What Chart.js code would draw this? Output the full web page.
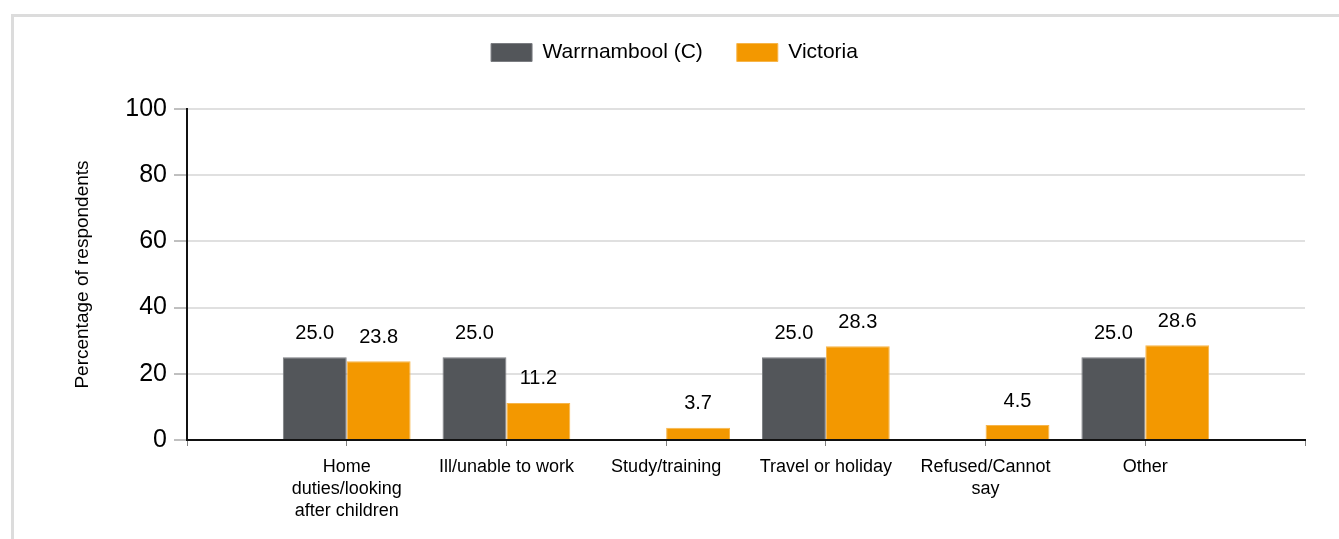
<!DOCTYPE html>
<html>
<head>
<meta charset="utf-8">
<script src="https://cdn.jsdelivr.net/npm/chart.js@4/dist/chart.umd.min.js"></script>
<style>
  html, body { margin: 0; padding: 0; background: #fff; overflow: hidden; }
  #frame { position: absolute; left: 11px; top: 14px; width: 1400px; height: 600px; border: 3px solid #dcdcdc; }
  #wrap { position: absolute; left: 0; top: 0; width: 1339px; height: 539px; }
</style>
</head>
<body>
<div id="frame"></div>
<div id="wrap"><canvas id="barChart"></canvas></div>
<script>
// categories (blank slots at both ends keep the one-slot gap either side)
const categories = [
    '',
    ['Home', 'duties/looking', 'after children'],
    'Ill/unable to work',
    'Study/training',
    'Travel or holiday',
    ['Refused/Cannot', 'say'],
    'Other',
    ''
];
const warrnambool = [null, 25.0, 25.0, null, 25.0, null, 25.0, null];
const victoria    = [null, 23.8, 11.2, 3.7, 28.3, 4.5, 28.6, null];
const yTicks = [0, 20, 40, 60, 80, 100];

const FONT = "'Liberation Sans', Arial, sans-serif";

// value labels above each bar
const valueLabels = {
    id: 'valueLabels',
    afterDatasetsDraw(chart) {
        const ctx = chart.ctx;
        ctx.save();
        ctx.font = '20px ' + FONT;
        ctx.fillStyle = '#000';
        ctx.textAlign = 'center';
        ctx.textBaseline = 'middle';
        chart.data.datasets.forEach((ds, i) => {
            chart.getDatasetMeta(i).data.forEach((bar, j) => {
                const v = ds.data[j];
                if (v === null || v === undefined) return;
                ctx.fillText(v.toFixed(1), bar.x, bar.y - 24);
            });
        });
        ctx.restore();
    }
};

// extra room under the legend, and nudge it a bit to the right
const legendTweak = {
    id: 'legendTweak',
    beforeInit(chart) {
        const fit = chart.legend.fit;
        chart.legend.fit = function () {
            fit.bind(chart.legend)();
            this.height += 36;
        };
    },
    afterLayout(chart) {
        chart.legend.left += 22;
        chart.legend.right += 22;
    }
};

function initChart() {
    const ctx = document.getElementById('barChart').getContext('2d');
    new Chart(ctx, {
        type: 'bar',
        data: {
            labels: categories,
            datasets: [
                {
                    label: 'Warrnambool (C)',
                    data: warrnambool,
                    backgroundColor: '#53565a',
                    borderColor: '#7b7d81',
                    borderWidth: 1,
                    categoryPercentage: 0.8,
                    barPercentage: 1.0
                },
                {
                    label: 'Victoria',
                    data: victoria,
                    backgroundColor: '#f39800',
                    borderColor: '#f7b54a',
                    borderWidth: 1,
                    categoryPercentage: 0.8,
                    barPercentage: 1.0
                }
            ]
        },
        options: {
            responsive: true,
            maintainAspectRatio: false,
            animation: false,
            layout: { padding: { top: 8, right: 34, bottom: 0, left: 0 } },
            plugins: {
                legend: {
                    position: 'top',
                    labels: {
                        boxWidth: 41,
                        boxHeight: 18,
                        padding: 34,
                        color: '#000',
                        font: { family: FONT, size: 21 }
                    }
                },
                tooltip: { enabled: false }
            },
            scales: {
                x: {
                    offset: false,
                    grid: {
                        offset: false,
                        drawOnChartArea: false,
                        drawTicks: true,
                        tickLength: 6,
                        tickColor: '#808080',
                        tickWidth: 1
                    },
                    border: { color: '#111', width: 2 },
                    ticks: {
                        color: '#000',
                        font: { family: FONT, size: 18, lineHeight: 1.22 },
                        maxRotation: 0,
                        autoSkip: false,
                        padding: 10
                    },
                    afterFit(scale) { scale.height = 99; }
                },
                y: {
                    min: 0,
                    max: 100,
                    afterBuildTicks(scale) {
                        scale.ticks = yTicks.map(v => ({ value: v }));
                    },
                    grid: {
                        color: '#e0e0e0',
                        lineWidth: 2,
                        drawTicks: true,
                        tickLength: 13,
                        tickColor: '#808080',
                        tickWidth: 1
                    },
                    border: { color: '#111', width: 2 },
                    ticks: {
                        color: '#000',
                        font: { family: FONT, size: 25 },
                        padding: 7
                    },
                    title: {
                        display: true,
                        text: 'Percentage of respondents',
                        color: '#000',
                        font: { family: FONT, size: 19 },
                        padding: { top: 71, bottom: 0 }
                    },
                    afterFit(scale) { scale.width = 187; }
                }
            }
        },
        plugins: [valueLabels, legendTweak]
    });
}

initChart();
</script>
</body>
</html>
